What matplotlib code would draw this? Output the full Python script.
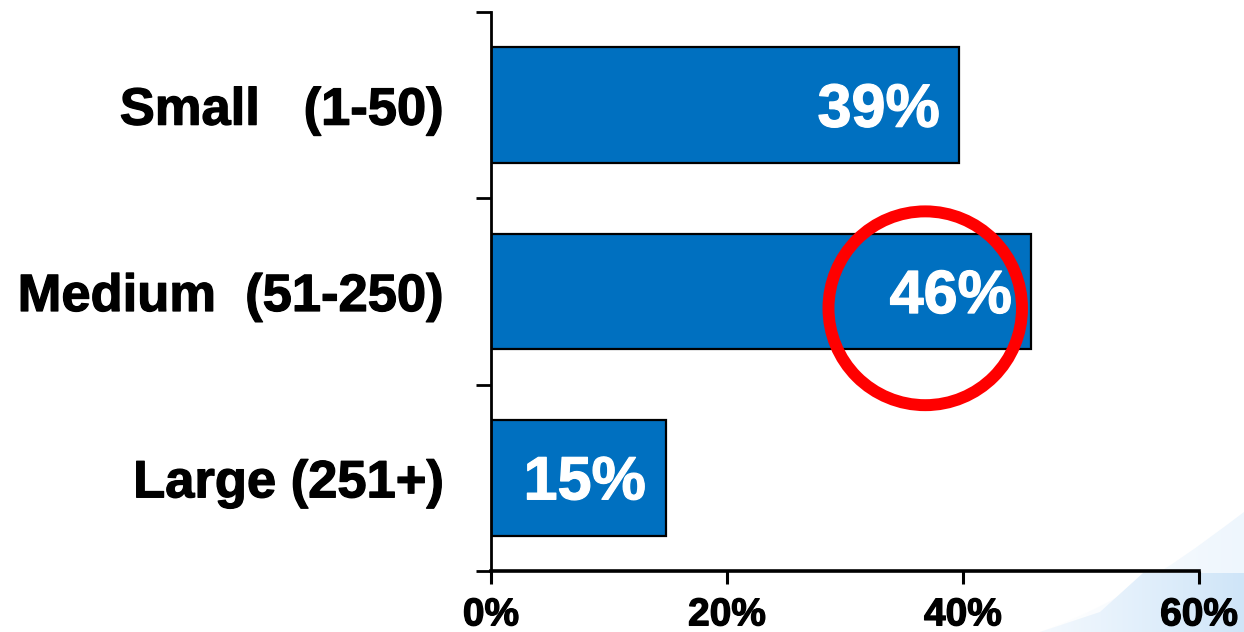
import matplotlib.pyplot as plt
import matplotlib.patheffects as pe
import numpy as np
from matplotlib.colors import LinearSegmentedColormap
from matplotlib.patches import Ellipse, PathPatch
from matplotlib.path import Path

# company size share
categorias = ['Small   (1-50)', 'Medium  (51-250)', 'Large (251+)']
valores = [39.7, 45.8, 14.8]
etiquetas = ['39%', '46%', '15%']
ticks_x = [0, 20, 40, 60]
ticks_x_txt = ['0%', '20%', '40%', '60%']

plt.rcParams['font.family'] = ['Liberation Sans', 'DejaVu Sans']
plt.rcParams['font.weight'] = 'bold'

fig = plt.figure(figsize=(12.44, 6.32), dpi=100)

# swoosh de fondo (abajo a la derecha)
fondo = fig.add_axes([0, 0, 1, 1], zorder=-5)
fondo.set_xlim(0, 1244)
fondo.set_ylim(632, 0)
fondo.axis('off')
grad = np.linspace(0, 1, 256).reshape(1, -1)
curva = Path([(1040, 632), (1130, 600), (1200, 545), (1244, 512), (1244, 632), (1040, 632)],
             [Path.MOVETO, Path.CURVE4, Path.CURVE4, Path.CURVE4, Path.LINETO, Path.CLOSEPOLY])
im1 = fondo.imshow(grad, extent=[1040, 1244, 632, 500], aspect='auto',
                   cmap=LinearSegmentedColormap.from_list('a', ['#ffffff', '#eef6fd']))
im1.set_clip_path(PathPatch(curva, transform=fondo.transData))
baja = Path([(1040, 632), (1100, 612), (1143, 573), (1244, 573), (1244, 632), (1040, 632)],
            [Path.MOVETO, Path.LINETO, Path.LINETO, Path.LINETO, Path.LINETO, Path.CLOSEPOLY])
im2 = fondo.imshow(grad, extent=[1040, 1244, 632, 572], aspect='auto',
                   cmap=LinearSegmentedColormap.from_list('b', ['#f4f9fe', '#cfe5f8']))
im2.set_clip_path(PathPatch(baja, transform=fondo.transData))

ax = fig.add_axes([491/1244, 1 - 571/632, (1199 - 491)/1244, (571 - 12)/632])
ax.patch.set_alpha(0)

pos = np.arange(len(categorias)) + 0.5
ax.barh(pos, valores, height=0.62, color='#0070C0', edgecolor='black', linewidth=1.6)

grueso_blanco = [pe.withStroke(linewidth=0.9, foreground='white')]
for p, v, t in zip(pos, valores, etiquetas):
    ax.annotate(t, (v, p), xytext=(-14, -15.5), textcoords='offset points',
                ha='right', va='baseline', color='white', fontsize=44,
                fontweight='bold', path_effects=grueso_blanco)

ax.set_xlim(0, 60)
ax.set_ylim(3, 0)
ax.set_xticks(ticks_x)
ax.set_xticklabels(ticks_x_txt, fontsize=28, fontweight='bold')
ax.set_yticks([0, 1, 2, 3])
ax.set_yticklabels([])
ax.set_yticks(pos, minor=True)
ax.set_yticklabels(categorias, minor=True, fontsize=37.8, fontweight='bold')
ax.tick_params(axis='y', which='major', direction='out', length=11, width=2)
ax.tick_params(axis='y', which='minor', length=0, pad=34)
ax.tick_params(axis='x', direction='out', length=9, width=2.2, pad=10)

grueso_negro = [pe.withStroke(linewidth=0.9, foreground='black')]
for lab in ax.get_yticklabels(minor=True) + ax.get_xticklabels():
    lab.set_path_effects(grueso_negro)

for lado in ['top', 'right']:
    ax.spines[lado].set_visible(False)
ax.spines['left'].set_linewidth(2)
ax.spines['bottom'].set_linewidth(2.6)

# círculo rojo sobre la barra mediana
ax.add_patch(Ellipse((36.8, 1.59), 16.4, 1.04, fill=False, edgecolor='#ff0000',
                     linewidth=8.6, clip_on=False, zorder=5))

fig.savefig('out.png', dpi=100)
